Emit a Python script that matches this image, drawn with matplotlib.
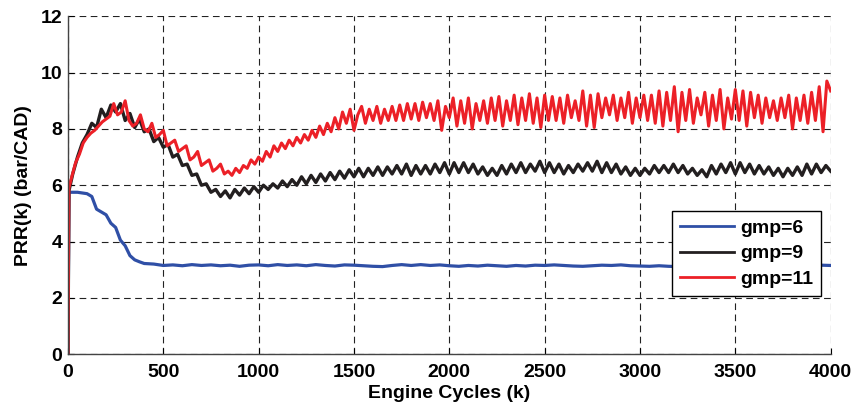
import matplotlib
matplotlib.use("Agg")
import matplotlib.pyplot as plt

# gmp=6 (blue)
blue_x = [0, 5, 50, 100, 125, 150, 175, 200, 225, 250, 275, 300, 325, 350, 375, 400] + list(range(450, 4001, 50))
blue_y = [0, 5.75, 5.75, 5.7, 5.6, 5.15, 5.05, 4.95, 4.65, 4.5, 4.05, 3.85, 3.5, 3.35, 3.28, 3.22,
          3.2, 3.15, 3.17, 3.14, 3.18, 3.15, 3.17, 3.14, 3.16, 3.12, 3.16, 3.17, 3.14, 3.18, 3.15,
          3.17, 3.14, 3.18, 3.15, 3.13, 3.17, 3.16, 3.14, 3.12, 3.11, 3.15, 3.18, 3.15, 3.18, 3.15,
          3.17, 3.14, 3.12, 3.15, 3.13, 3.16, 3.14, 3.12, 3.15, 3.13, 3.16, 3.15, 3.17, 3.15, 3.13,
          3.12, 3.14, 3.16, 3.15, 3.17, 3.14, 3.13, 3.12, 3.14, 3.12, 3.11, 3.12, 3.14, 3.12, 3.13,
          3.11, 3.13, 3.12, 3.14, 3.12, 3.13, 3.14, 3.12, 3.14, 3.13, 3.16, 3.15]

# gmp=9 (black)
black_x = [0, 5] + list(range(25, 4001, 25))
black_y = [0, 5.8,
           6.4, 7.0, 7.5, 7.8, 8.2, 8.05, 8.7, 8.4, 8.85, 8.6, 8.9, 8.3, 8.55, 8.05, 8.35, 7.9,
           8.0, 7.55, 7.7, 7.35, 7.45, 7.0, 7.1, 6.7, 6.75, 6.35, 6.4, 6.0, 6.05, 5.75, 5.85, 5.6,
           5.8, 5.55, 5.85, 5.65, 5.9, 5.7, 5.95, 5.75, 6.0, 5.85, 6.05, 5.9, 6.15, 5.95, 6.2, 6.0,
           6.3, 6.05, 6.35, 6.1, 6.4, 6.15, 6.45, 6.2, 6.5, 6.25, 6.55, 6.3, 6.6, 6.3, 6.6, 6.35,
           6.65, 6.35, 6.65, 6.4, 6.7, 6.4, 6.75, 6.35, 6.7, 6.4, 6.7, 6.4, 6.75, 6.45, 6.8, 6.4,
           6.8, 6.45, 6.8, 6.45, 6.75, 6.4, 6.65, 6.35, 6.6, 6.35, 6.7, 6.4, 6.75, 6.45, 6.8, 6.45,
           6.75, 6.5, 6.85, 6.45, 6.8, 6.45, 6.75, 6.4, 6.7, 6.45, 6.75, 6.5, 6.8, 6.5, 6.85, 6.45,
           6.8, 6.45, 6.75, 6.4, 6.65, 6.35, 6.6, 6.35, 6.6, 6.4, 6.7, 6.45, 6.7, 6.45, 6.75, 6.45,
           6.7, 6.4, 6.6, 6.35, 6.55, 6.3, 6.7, 6.4, 6.75, 6.45, 6.8, 6.4, 6.8, 6.45, 6.75, 6.4,
           6.7, 6.4, 6.65, 6.35, 6.6, 6.3, 6.6, 6.35, 6.65, 6.35, 6.75, 6.4, 6.75, 6.45, 6.7, 6.5]

# gmp=11 (red)
red_x = [0, 5] + list(range(20, 4001, 20))
red_y = [0, 5.9,
         6.3, 6.8, 7.1, 7.5, 7.7, 7.85, 7.95, 8.1, 8.25, 8.35, 8.45, 8.9, 8.5, 8.6, 9.0, 8.3,
         8.1, 8.2, 8.5, 8.0, 7.9, 8.2, 7.7, 7.8, 7.95, 7.4, 7.5, 7.6, 7.2, 7.3, 7.4, 6.9,
         7.0, 7.2, 6.7, 6.8, 6.9, 6.5, 6.6, 6.75, 6.4, 6.5, 6.35, 6.6, 6.45, 6.7, 6.6, 6.9,
         6.75, 7.0, 6.85, 7.2, 7.0, 7.4, 7.2, 7.5, 7.3, 7.6, 7.4, 7.7, 7.5, 7.8, 7.6, 7.95,
         7.7, 8.1, 7.8, 8.2, 7.9, 8.4, 8.0, 8.6, 8.2, 8.7, 7.95, 8.5, 8.8, 8.2, 8.7, 8.3,
         8.8, 8.2, 8.7, 8.3, 8.8, 8.3, 8.85, 8.3, 8.9, 8.35, 8.9, 8.3, 8.95, 8.4, 8.9, 8.3,
         9.0, 7.95, 8.8, 8.4, 9.1, 8.1, 9.0, 8.2, 9.1, 8.0, 8.9, 8.3, 9.0, 8.2, 9.1, 8.3,
         9.15, 8.1, 9.0, 8.3, 9.2, 8.15, 9.1, 8.3, 9.25, 8.2, 9.1, 8.05, 9.2, 8.3, 9.15, 8.3,
         9.1, 8.2, 9.2, 8.4, 9.0, 8.3, 9.35, 8.1, 9.2, 8.05, 9.25, 8.4, 9.1, 8.5, 9.2, 8.3,
         9.1, 8.4, 9.3, 8.2, 9.1, 8.4, 9.2, 8.3, 9.2, 8.2, 9.35, 8.1, 9.3, 8.3, 9.5, 7.9,
         9.3, 8.3, 9.4, 8.2, 9.1, 8.5, 9.3, 8.1, 9.2, 8.3, 9.4, 8.0, 9.1, 8.35, 9.4, 8.3,
         9.35, 8.1, 9.3, 8.4, 9.2, 8.2, 9.1, 8.4, 9.0, 8.3, 9.1, 8.4, 9.2, 8.0, 9.1, 8.3,
         9.2, 8.2, 9.3, 8.3, 9.5, 7.9, 9.7, 9.35]

labels = ["gmp=6", "gmp=9", "gmp=11"]
colors = ["#2f4fa6", "#231f20", "#ec2027"]

plt.rcParams["font.family"] = ["Liberation Sans", "DejaVu Sans"]
plt.rcParams["font.weight"] = "bold"

fig = plt.figure(figsize=(8.56, 4.08), dpi=100)
ax = fig.add_axes([0.0794, 0.132, 0.891, 0.828])

ax.plot(blue_x, blue_y, color=colors[0], lw=2.3, label=labels[0])
ax.plot(black_x, black_y, color=colors[1], lw=2.4, label=labels[1])
ax.plot(red_x, red_y, color=colors[2], lw=2.2, label=labels[2])

ax.set_xlim(0, 4000)
ax.set_ylim(0, 12)
ax.set_xticks(range(0, 4001, 500))
ax.set_yticks(range(0, 13, 2))
ax.grid(True, color="#222222", linestyle=(0, (6, 4)), linewidth=0.8)
ax.set_axisbelow(True)

for s in ["top", "right"]:
    ax.spines[s].set_visible(False)
for s in ["left", "bottom"]:
    ax.spines[s].set_color("#444444")
    ax.spines[s].set_linewidth(1.0)

ax.tick_params(direction="in", length=4, width=0.8, labelsize=14)
ax.tick_params(axis="x", pad=7)
ax.tick_params(axis="y", pad=4)
for lbl in ax.get_xticklabels() + ax.get_yticklabels():
    lbl.set_fontweight("bold")

ax.set_xlabel("Engine Cycles (k)", fontsize=14, fontweight="bold", labelpad=3)
ax.set_ylabel("PRR(k) (bar/CAD)", fontsize=14, fontweight="bold", labelpad=6)

leg = ax.legend(loc="upper right", bbox_to_anchor=(0.987, 0.423), borderaxespad=0,
                fontsize=14, frameon=True, fancybox=False, framealpha=1, edgecolor="black",
                handlelength=2.8, handletextpad=0.3, borderpad=0.4, labelspacing=0.42)
leg.get_frame().set_linewidth(1.0)
for t in leg.get_texts():
    t.set_fontweight("bold")
for h in leg.get_lines():
    h.set_linewidth(2.0)

fig.savefig("out.png", dpi=100)
